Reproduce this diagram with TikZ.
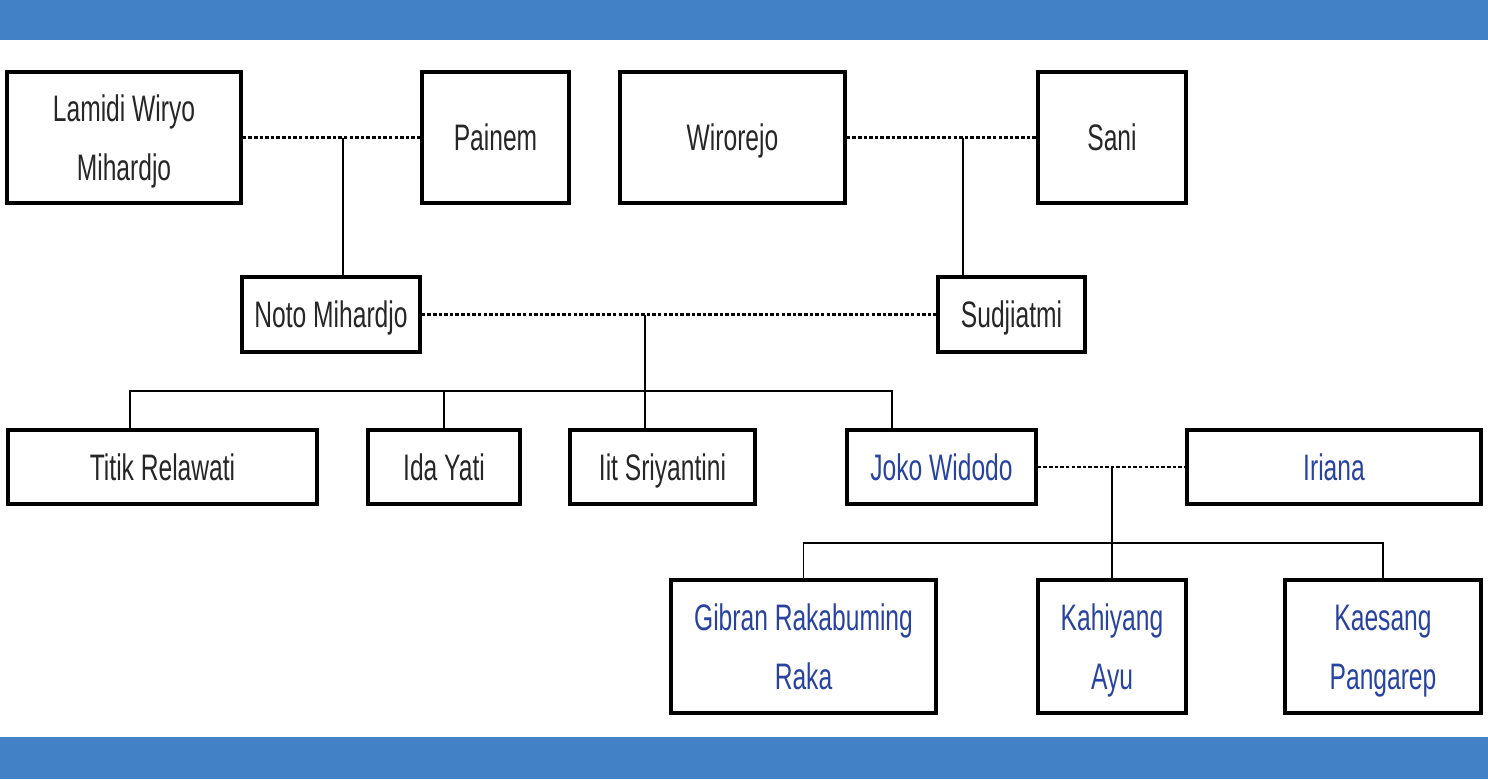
\documentclass[tikz,border=0pt]{standalone}
\usepackage{fontspec}
\setmainfont{Liberation Sans}
\usepackage{graphicx}
\definecolor{band}{RGB}{66,129,198}
\definecolor{namegray}{RGB}{38,38,38}
\definecolor{nameblue}{RGB}{40,66,160}
\def\px{0.02cm}
\def\nm#1{\raisebox{0pt}[15pt][0pt]{\scalebox{1}[1.5]{#1}}}
\def\nmm#1#2{\raisebox{-2.5pt}[\height][\depth]{\scalebox{1}[1.5]{\begin{tabular}{@{}c@{}}#1\\[5.2pt]#2\end{tabular}}}}
\tikzset{
  person/.style={draw, line width=2pt, inner sep=0pt, font=\fontsize{14}{17}\selectfont, text=namegray},
  link/.style={text=nameblue},
  wed/.style={line width=1.5pt, dash pattern=on 2pt off 1.2pt},
  kin/.style={line width=0.9pt},
}

\begin{document}
\begin{tikzpicture}[x=0.02cm, y=-0.02cm]
		%%%%% START %%%%%
		\useasboundingbox (0, 0) rectangle (1488, 779);
		\fill[band] (0, 0) rectangle (1488, 40);
		\fill[band] (0, 737) rectangle (1488, 779);
		
		\node[person, minimum width=234*\px, minimum height=131*\px] (lamidi) at (124, 137.5) {\nmm{Lamidi Wiryo}{Mihardjo}};
		\node[person, minimum width=147*\px, minimum height=131*\px] (painem) at (495.5, 137.5) {\nm{Painem}};
		\node[person, minimum width=225*\px, minimum height=131*\px] (wirorejo) at (732.5, 137.5) {\nm{Wirorejo}};
		\node[person, minimum width=148*\px, minimum height=131*\px] (sani) at (1112, 137.5) {\nm{Sani}};
		
		\node[person, minimum width=178*\px, minimum height=75*\px] (noto) at (331, 314.5) {\nm{Noto Mihardjo}};
		\node[person, minimum width=147*\px, minimum height=75*\px] (sudji) at (1011.5, 314.5) {\nm{Sudjiatmi}};
		
		\node[person, minimum width=309*\px, minimum height=74*\px] (titik) at (162.5, 467) {\nm{Titik Relawati}};
		\node[person, minimum width=152*\px, minimum height=74*\px] (ida) at (444, 467) {\nm{Ida Yati}};
		\node[person, minimum width=185*\px, minimum height=74*\px] (iit) at (662.5, 467) {\nm{Iit Sriyantini}};
		\node[person, link, minimum width=189*\px, minimum height=74*\px] (joko) at (941.5, 467) {\nm{Joko Widodo}};
		\node[person, link, minimum width=294*\px, minimum height=74*\px] (iriana) at (1334, 467) {\nm{Iriana}};
		
		\node[person, link, minimum width=265*\px, minimum height=133*\px] (gibran) at (803.5, 646.5) {\nmm{Gibran Rakabuming}{Raka}};
		\node[person, link, minimum width=148*\px, minimum height=133*\px] (kahiyang) at (1112, 646.5) {\nmm{Kahiyang}{Ayu}};
		\node[person, link, minimum width=196*\px, minimum height=133*\px] (kaesang) at (1383, 646.5) {\nmm{Kaesang}{Pangarep}};
		
		% marriages
		\draw[wed] (lamidi) -- (painem);
		\draw[wed] (wirorejo) -- (sani);
		\draw[wed] (noto) -- (sudji);
		\draw[wed] (joko) -- (iriana);
		
		\coordinate (m1) at (343, 137.5);
		\coordinate (m2) at (963, 137.5);
		\coordinate (m3) at (645, 314.5);
		\coordinate (m4) at (1112, 467);
		\coordinate (bar1) at (645, 391);
		\coordinate (bar2) at (1112, 543);
		
		% children
		\draw[kin] (m1) -- (m1 |- noto.north);
		\draw[kin] (m2) -- (m2 |- sudji.north);
		\draw[kin] (m3) -- (m3 |- iit.north);
		\draw[kin] ([xshift=-32.5*\px]titik.north) |- (bar1) -| ([xshift=-49.5*\px]joko.north);
		\draw[kin] (ida.north) -- (ida.north |- bar1);
		
		\draw[kin] (m4) -- (kahiyang.north);
		\draw[kin] (gibran.north) |- (bar2) -| (kaesang.north);
		%%%%% END %%%%%
\end{tikzpicture}
\end{document}
